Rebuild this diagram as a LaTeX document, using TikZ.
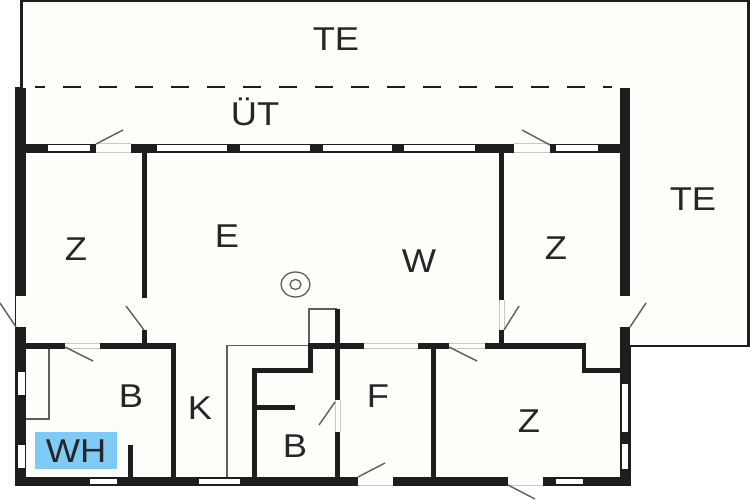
\documentclass[tikz,border=0pt]{standalone}
\usepackage{fontspec}
\setmainfont{Liberation Sans}
\definecolor{ivory}{HTML}{FDFEF9}
\definecolor{wallc}{HTML}{1E1E1E}
\definecolor{thinc}{HTML}{5E5E5E}
\definecolor{faintc}{HTML}{C8C8C4}
\definecolor{skyc}{HTML}{7FCBF5}
\tikzset{
  wall/.style={fill=wallc,draw=none},
  win/.style={fill=white,draw=none},
  gap/.style={fill=ivory,draw=none},
  swing/.style={draw=thinc,line width=1.4pt},
  thinln/.style={draw=thinc,line width=1.3pt},
  faint/.style={draw=faintc,line width=1pt},
  lab/.style={inner sep=0pt,text=black!85,xscale=1.1,font=\fontsize{33}{33}\selectfont},
}
\begin{document}
\begin{tikzpicture}[x=1pt,y=-1pt]
\useasboundingbox (0,0) rectangle (750,500);
\fill[white] (0,0) rectangle (750,500);
% floor / terrace
\fill[ivory,draw=wallc,line width=2.6pt] (21.5,1) -- (748.7,1) -- (748.7,346) -- (630,346) -- (630,485) -- (16,485) -- (16,88) -- (21.5,88) -- cycle;
% dashed
\draw[wallc,line width=2.4pt,dash pattern=on 18pt off 18pt,dash phase=8pt] (35,87) -- (612,87);
% thin lines
\draw[thinln] (227,477) -- (227,345.5) -- (309,345.5) -- (309,309) -- (337,309);
\draw[thinln] (26,348) -- (49,348) -- (49,419) -- (26,419);
% outer walls
\fill[wall] (16,88) rectangle (26,485);
\fill[wall] (620,88) rectangle (630,485);
\fill[wall] (16,477) rectangle (630,485);
\fill[wall] (26,144) rectangle (620,153);
% inner walls
\fill[wall] (142,153) rectangle (147,345);
\fill[wall] (26,343) rectangle (175,349);
\fill[wall] (171,343) rectangle (175.500,480);
\fill[wall] (128,445) rectangle (133,480);
\fill[wall] (308,343) rectangle (586,349);
\fill[wall] (335,309) rectangle (340,480);
\fill[wall] (308,343) rectangle (312.500,373);
\fill[wall] (252,368) rectangle (312.500,373);
\fill[wall] (252,368) rectangle (257,480);
\fill[wall] (257,405) rectangle (295,410);
\fill[wall] (431,349) rectangle (436,480);
\fill[wall] (499,153) rectangle (504,345);
\fill[wall] (582,343) rectangle (586,373);
\fill[wall] (582,368) rectangle (620,373);
% top wall openings
\fill[win] (48,145.500) rectangle (90,151.500);
\fill[gap] (96,144) rectangle (131,153);
\fill[win] (157,145.500) rectangle (227,151.500);
\fill[win] (240,145.500) rectangle (310,151.500);
\fill[win] (323,145.500) rectangle (392,151.500);
\fill[win] (404,145.500) rectangle (475,151.500);
\fill[gap] (514,144) rectangle (550,153);
\fill[win] (556,145.500) rectangle (598,151.500);
\draw[faint] (96,144) -- (131,144) (96,153) -- (131,153);
\draw[faint] (514,144) -- (550,144) (514,153) -- (550,153);
% left wall openings
\fill[gap] (16,296) rectangle (26,327);
\fill[win] (18,372) rectangle (25,395);
\fill[win] (18,445) rectangle (25,468);
% right wall openings
\fill[gap] (620,296) rectangle (630,327);
\fill[win] (622,384) rectangle (628,432);
\fill[win] (622,444) rectangle (628,469);
% bottom wall openings
\fill[win] (90,479) rectangle (117,484);
\fill[win] (199,479) rectangle (240,484);
\fill[gap] (358,477) rectangle (393,485);
\fill[gap] (508,477) rectangle (543,485);
\fill[win] (556,479) rectangle (583,484);
\draw[faint] (358,485) -- (393,485) (508,485) -- (543,485);
% inner openings
\fill[gap] (142,298) rectangle (147,330);
\fill[gap] (65,343) rectangle (100,349);
\fill[gap] (364,343) rectangle (418,349);
\fill[gap] (449,343) rectangle (485,349);
\fill[gap] (335,400) rectangle (340,432);
\fill[gap] (499,300) rectangle (504,330);
\draw[faint] (449,343.500) -- (485,343.500) (449,348.500) -- (485,348.500);
\draw[faint] (65,343.500) -- (100,343.500) (65,348.500) -- (100,348.500);
\draw[faint] (364,343.500) -- (418,343.500) (364,348.500) -- (418,348.500);
\draw[faint] (335,400) -- (335,432) (340,400) -- (340,432);
\draw[faint] (499,300) -- (499,330) (504,300) -- (504,330);
% swings
\draw[swing] (96,144) -- (123,130);
\draw[swing] (550,145) -- (522,130);
\draw[swing] (16,327) -- (0,303);
\draw[swing] (144,330) -- (126,306);
\draw[swing] (65,347) -- (93,361);
\draw[swing] (449,347) -- (477,361);
\draw[swing] (335,402) -- (319,425);
\draw[swing] (358,477) -- (385,463);
\draw[swing] (508,485) -- (535,499);
\draw[swing] (630,327) -- (646,303);
\draw[swing] (504,330) -- (519,306);
% stove
\draw[thinln] (295.500,284.500) ellipse (14.500 and 12.500);
\draw[thinln] (295.500,284.500) ellipse (5.500 and 5);
% WH
\fill[skyc] (35,432) rectangle (117,469);
% labels
\node[lab] (te1) at (336,39) {TE};
\node[lab] (te2) at (693,199) {TE};
\node[lab] (ut) at (255,112) {ÜT};
\node[lab] (z1) at (76,249) {Z};
\node[lab] (e) at (227,236) {E};
\node[lab] (w) at (419,261) {W};
\node[lab] (z2) at (556,248) {Z};
\node[lab] (b1) at (131,396) {B};
\node[lab] (k) at (200,408) {K};
\node[lab] (wh) at (76,451) {WH};
\node[lab] (b2) at (295,446) {B};
\node[lab] (f) at (378,396) {F};
\node[lab] (z3) at (529,421) {Z};
\end{tikzpicture}
\end{document}
